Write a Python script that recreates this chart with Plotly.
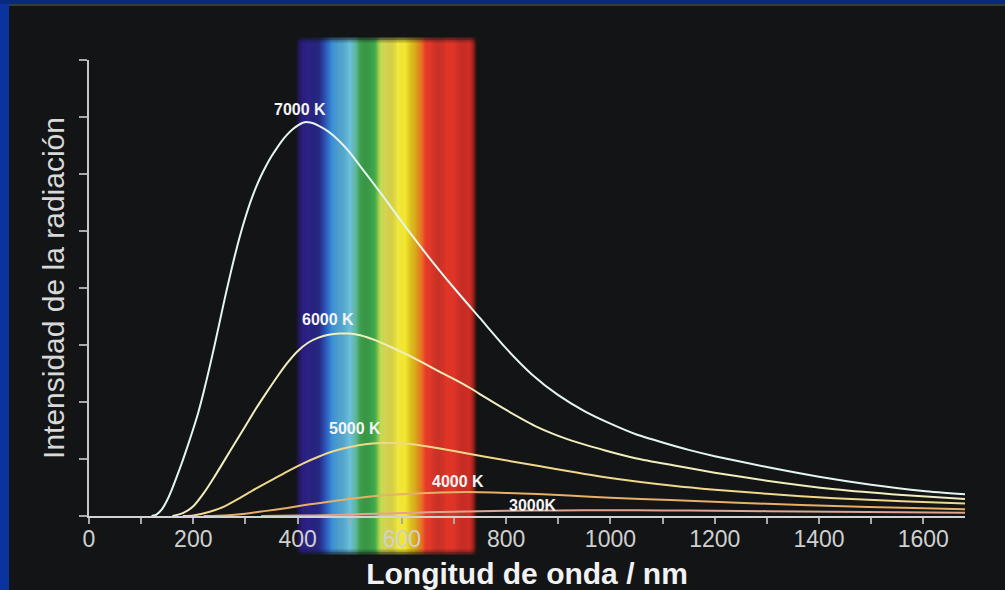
import plotly.graph_objects as go

# ---------------- data ----------------
wl_7000 = [120, 130, 140, 150, 160, 170, 180, 190, 200, 210, 220, 230, 240, 250, 260, 270,
           280, 290, 300, 310, 320, 330, 340, 350, 360, 370, 380, 390, 400, 410, 420, 430,
           440, 460, 480, 500, 520, 540, 560, 580, 600, 650, 700, 750, 800, 850, 900, 950,
           1000, 1050, 1100, 1150, 1200, 1300, 1400, 1500, 1600, 1680]
int_7000 = [0.0, 0.03, 0.12, 0.28, 0.49, 0.73, 0.98, 1.25, 1.53, 1.83, 2.18, 2.56, 2.96, 3.38,
            3.8, 4.2, 4.58, 4.93, 5.24, 5.52, 5.76, 5.97, 6.15, 6.31, 6.45, 6.58, 6.69, 6.78,
            6.85, 6.9, 6.91, 6.89, 6.85, 6.74, 6.58, 6.38, 6.14, 5.9, 5.66, 5.41, 5.16, 4.56,
            4.0, 3.47, 2.94, 2.48, 2.12, 1.84, 1.62, 1.43, 1.29, 1.16, 1.05, 0.86, 0.69, 0.55,
            0.44, 0.38]

wl_6000 = [160, 180, 200, 220, 240, 260, 280, 300, 320, 340, 360, 380, 400, 420, 440, 460,
           480, 500, 520, 550, 580, 610, 640, 670, 700, 730, 760, 800, 860, 920, 990, 1050,
           1120, 1200, 1300, 1430, 1560, 1680]
int_6000 = [0.0, 0.05, 0.17, 0.4, 0.68, 0.98, 1.28, 1.58, 1.88, 2.16, 2.43, 2.68, 2.89, 3.04,
            3.13, 3.18, 3.2, 3.2, 3.17, 3.08, 2.96, 2.83, 2.69, 2.54, 2.4, 2.25, 2.08, 1.86,
            1.56, 1.34, 1.15, 1.01, 0.89, 0.76, 0.62, 0.47, 0.37, 0.3]

wl_5000 = [180, 200, 230, 260, 290, 320, 350, 380, 410, 440, 470, 500, 530, 560, 590, 620,
           650, 700, 760, 860, 990, 1120, 1200, 1300, 1430, 1560, 1680]
int_5000 = [0.0, 0.01, 0.07, 0.17, 0.32, 0.48, 0.63, 0.78, 0.92, 1.04, 1.14, 1.21, 1.26, 1.28,
            1.28, 1.26, 1.22, 1.14, 1.04, 0.88, 0.68, 0.53, 0.46, 0.39, 0.31, 0.26, 0.22]

wl_4000 = [220, 260, 300, 340, 380, 420, 460, 500, 550, 600, 650, 700, 750, 800, 860, 920,
           1000, 1115, 1210, 1300, 1430, 1560, 1680]
int_4000 = [0.0, 0.01, 0.04, 0.09, 0.14, 0.2, 0.25, 0.3, 0.35, 0.38, 0.405, 0.418, 0.418,
            0.405, 0.385, 0.36, 0.32, 0.28, 0.245, 0.215, 0.175, 0.145, 0.12]

wl_3000 = [330, 400, 450, 500, 550, 600, 650, 700, 750, 800, 900, 1000, 1100, 1200, 1300,
           1428, 1556, 1680]
int_3000 = [0, 0.007, 0.014, 0.026, 0.04, 0.052, 0.065, 0.075, 0.084, 0.091, 0.097, 0.1,
            0.098, 0.092, 0.085, 0.075, 0.066, 0.058]

curve_names = ["7000 K", "6000 K", "5000 K", "4000 K", "3000K"]
label_x = [405, 458, 510, 708, 852]
label_y = [7.14, 3.44, 1.54, 0.6, 0.19]

x_tickvals = [0, 200, 400, 600, 800, 1000, 1200, 1400, 1600]

# visible-spectrum band: wavelength stops and their colours
spectrum_nm = [396, 403, 410, 440, 452, 466, 480, 500, 510, 520, 548, 558, 570, 608, 624,
               634, 646, 728, 736, 744]
spectrum_col = ["#131416", "#231a5e", "#2b1f80", "#2b2a8e", "#2c50b4", "#3a8ed6", "#58b4e4",
                "#6cc0de", "#62b8a8", "#42aa52", "#3ea84a", "#b8d850", "#ece85a", "#f2e62c",
                "#f6c81c", "#f08a22", "#e43a2a", "#de3028", "#a82418", "#131416"]

# ---------------- figure ----------------
BG = "#131416"
W, H = 1005, 590
L, R, T, B = 89, 40, 60, 74
PW, PH = W - L - R, H - T - B


def py(p):  # pixel row -> paper y
    return (H - B - p) / PH


def px(p):  # pixel column -> paper x
    return (p - L) / PW


def h2rgb(h):
    return tuple(int(h[i:i + 2], 16) for i in (1, 3, 5))


def band_color(lam):
    for i in range(len(spectrum_nm) - 1):
        a, b = spectrum_nm[i], spectrum_nm[i + 1]
        if a <= lam <= b:
            t = (lam - a) / (b - a)
            ca, cb = h2rgb(spectrum_col[i]), h2rgb(spectrum_col[i + 1])
            c = [round(ca[k] + (cb[k] - ca[k]) * t) for k in range(3)]
            return "rgb(%d,%d,%d)" % tuple(c)
    return BG


shapes = []
band_top, band_bot = py(37), py(555)
step = 2
lam = spectrum_nm[0]
while lam < spectrum_nm[-1]:
    shapes.append(dict(type="rect", xref="x", yref="paper", x0=lam, x1=lam + step + 0.6,
                       y0=band_bot, y1=band_top, fillcolor=band_color(lam + step / 2),
                       line=dict(width=0), layer="below"))
    lam += step
# feathered top / bottom edges of the band
for i, op in enumerate([0.8, 0.55, 0.3, 0.12]):
    shapes.append(dict(type="rect", xref="x", yref="paper", x0=spectrum_nm[0],
                       x1=spectrum_nm[-1], y0=py(37 + 1.5 * (i + 1)), y1=py(37 + 1.5 * i),
                       fillcolor=BG, opacity=op, line=dict(width=0), layer="below"))
    shapes.append(dict(type="rect", xref="x", yref="paper", x0=spectrum_nm[0],
                       x1=spectrum_nm[-1], y0=py(555 - 1.5 * i), y1=py(555 - 1.5 * (i + 1)),
                       fillcolor=BG, opacity=op, line=dict(width=0), layer="below"))

# blue frame of the slide
shapes.append(dict(type="rect", xref="paper", yref="paper", x0=px(-2), x1=px(9),
                   y0=py(H + 2), y1=py(-2), fillcolor="#0a33a0", line=dict(width=0),
                   layer="below"))
shapes.append(dict(type="rect", xref="paper", yref="paper", x0=px(-2), x1=px(W + 2),
                   y0=py(4), y1=py(-2), fillcolor="#08297e", line=dict(width=0),
                   layer="below"))
shapes.append(dict(type="rect", xref="paper", yref="paper", x0=px(9), x1=px(W + 2),
                   y0=py(6), y1=py(4), fillcolor="#3a3b3e", line=dict(width=0),
                   layer="below"))

fig = go.Figure()
series = [(wl_3000, int_3000, "#e2a48e"), (wl_4000, int_4000, "#e6b066"),
          (wl_5000, int_5000, "#efd88a"), (wl_6000, int_6000, "#f0eebc"),
          (wl_7000, int_7000, "#e4f4ee")]
names_rev = curve_names[::-1]
for (xs, ys, col), nm in zip(series, names_rev):
    fig.add_trace(go.Scatter(x=xs, y=ys, mode="lines", name=nm,
                             line=dict(color=col, width=2, shape="spline", smoothing=0.6),
                             hoverinfo="skip", showlegend=False))

annotations = []
for t, x, y in zip(curve_names, label_x, label_y):
    annotations.append(dict(x=x, y=y, xref="x", yref="y", text=t, showarrow=False,
                            font=dict(family="Liberation Sans", size=16, color="#f4f4f4",
                                      weight="bold"),
                            xanchor="center", yanchor="middle"))

fig.update_layout(
    width=W, height=H, autosize=False,
    margin=dict(l=L, r=R, t=T, b=B, pad=0, autoexpand=False),
    paper_bgcolor=BG, plot_bgcolor="rgba(0,0,0,0)",
    font=dict(family="Liberation Sans", color="#d4d4d4"),
    shapes=shapes, annotations=annotations, showlegend=False,
    xaxis=dict(range=[0, 1680], showgrid=False, zeroline=False, showline=True,
               automargin=False,
               linecolor="#d2d2d2", linewidth=2, ticks="outside", ticklen=6,
               tickwidth=1.5, tickcolor="#a8a8a8", tickvals=x_tickvals,
               tickfont=dict(size=23, color="#d0d0d0"), ticklabelstandoff=-5,
               minor=dict(dtick=100, ticks="outside", ticklen=6, tickwidth=1.5,
                          tickcolor="#a8a8a8", showgrid=False),
               title=dict(text="<b>Longitud de onda / nm</b>", standoff=12,
                          font=dict(size=30, color="#f2f2f2"))),
    yaxis=dict(range=[0, 8], dtick=1, showgrid=False, zeroline=False, showline=True,
               automargin=False,
               linecolor="#c8c8c8", linewidth=2, ticks="outside", ticklen=8,
               tickwidth=1.5, tickcolor="#a8a8a8", showticklabels=False,
               title=dict(text="Intensidad de la radiación", standoff=6,
                          font=dict(size=30, color="#d8d8d8"))),
)

fig.write_html("out.html", config={"displayModeBar": False},
               post_script="document.body.style.margin='0';"
                           "document.body.style.overflow='hidden';")
